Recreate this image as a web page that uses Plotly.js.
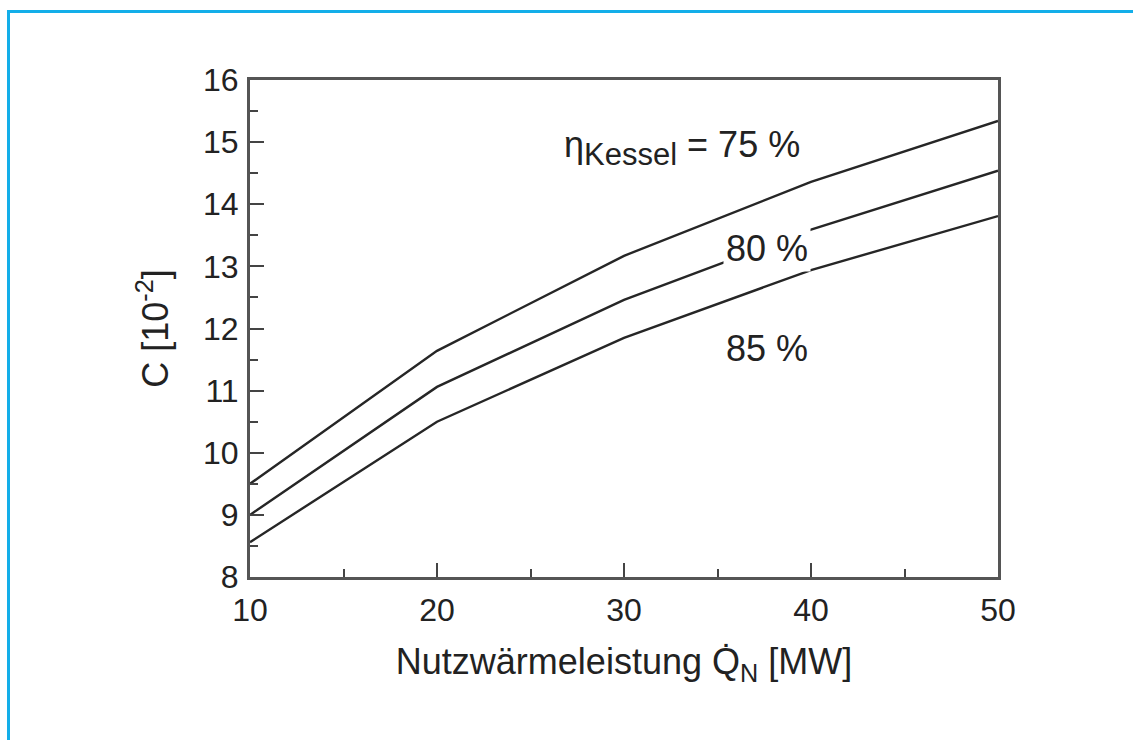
<!DOCTYPE html>
<html>
<head>
<meta charset="utf-8">
<script src="https://cdn.plot.ly/plotly-3.0.1.min.js"></script>
<style>html,body{margin:0;padding:0;background:#fff;}#chart{width:1133px;height:740px;}</style>
</head>
<body>
<div id="chart"></div>
<script>
// Data
const heatOutputMW = [10, 20, 30, 40, 50];
const cEta75 = [9.50, 11.64, 13.17, 14.36, 15.34];
const cEta80 = [9.00, 11.06, 12.46, 13.59, 14.54];
const cEta85 = [8.56, 10.50, 11.85, 12.94, 13.81];
const seriesNames = ["η = 75 %", "η = 80 %", "η = 85 %"];
const xTicks = [10, 20, 30, 40, 50];
const yTicks = [8, 9, 10, 11, 12, 13, 14, 15, 16];

const lineStyle = {color: '#262626', width: 2.4};
const traces = [cEta75, cEta80, cEta85].map((ys, i) => ({
  x: heatOutputMW, y: ys, type: 'scatter', mode: 'lines',
  name: seriesNames[i], line: lineStyle, hoverinfo: 'x+y'
}));

const W = 1133, H = 740;
const m = {l: 250, r: 135, t: 80, b: 163};
const pw = W - m.l - m.r, ph = H - m.t - m.b;
const px2x = p => (p - m.l) / pw;
const px2y = p => (H - m.b - p) / ph;

const font = {family: 'Liberation Sans, Arial, sans-serif', color: '#222'};
const axisCommon = {
  showgrid: false, zeroline: false, showline: true, mirror: true,
  linecolor: '#555', linewidth: 3,
  ticks: 'inside', ticklen: 14, tickwidth: 2, tickcolor: '#444',
  tickfont: Object.assign({size: 32}, font)
};

const layout = {
  width: W, height: H, margin: m,
  paper_bgcolor: '#fff', plot_bgcolor: '#fff',
  showlegend: false,
  xaxis: Object.assign({}, axisCommon, {
    range: [10, 50], tickvals: xTicks, ticktext: xTicks.map(String),
    ticklabelstandoff: 3,
    minor: {ticks: 'inside', ticklen: 8, tickwidth: 2, tickcolor: '#444', dtick: 5, showgrid: false},
    title: {text: 'Nutzwärmeleistung Q̇<sub>N</sub> [MW]', font: Object.assign({size: 36}, font), standoff: 22}
  }),
  yaxis: Object.assign({}, axisCommon, {
    range: [8, 16], tickvals: yTicks, ticktext: yTicks.map(String),
    ticklabelstandoff: 2,
    minor: {ticks: 'inside', ticklen: 8, tickwidth: 2, tickcolor: '#444', dtick: 0.5, showgrid: false},
    title: {text: 'C [10<sup>-2</sup>]', font: Object.assign({size: 36}, font), standoff: 24}
  }),
  annotations: [
    {xref: 'x', yref: 'y', x: 33.1, y: 14.9,
     text: 'η<sub><span style="font-size:31px">Kessel</span></sub> = 75 %', showarrow: false,
     font: Object.assign({size: 36}, font)},
    {xref: 'x', yref: 'y', x: 37.65, y: 13.29, text: '80 %', showarrow: false, bgcolor: '#fff',
     borderpad: 2, font: Object.assign({size: 36}, font)},
    {xref: 'x', yref: 'y', x: 37.65, y: 11.68, text: '85 %', showarrow: false,
     font: Object.assign({size: 36}, font)}
  ],
  shapes: [
    {type: 'rect', xref: 'paper', yref: 'paper', layer: 'below',
     x0: px2x(8.5), x1: px2x(1145), y0: px2y(760), y1: px2y(11.5),
     line: {color: '#13aee9', width: 3}, fillcolor: 'rgba(0,0,0,0)'}
  ]
};

Plotly.newPlot('chart', traces, layout, {staticPlot: true, displayModeBar: false});
</script>
</body>
</html>
